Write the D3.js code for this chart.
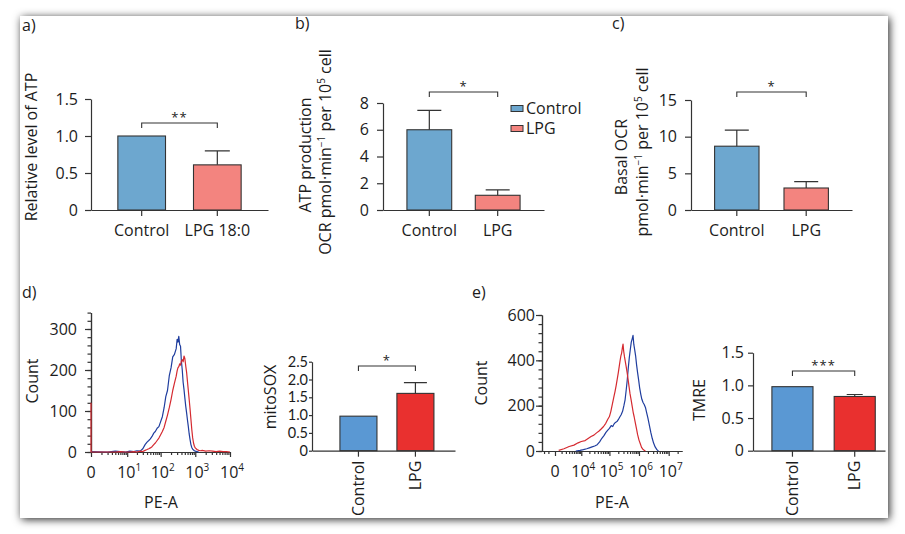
<!DOCTYPE html>
<html><head><meta charset="utf-8">
<script src="https://cdn.jsdelivr.net/npm/d3@7"></script>
<style>
html,body{margin:0;padding:0;background:#fff;}
svg{display:block;}
text{font-family:"Open Sans","Noto Sans",sans-serif;fill:#1c1c1c;}
</style></head><body>
<svg id="chart" width="905" height="534"></svg>
<script>
// ---------------- DATA ----------------
const groupsA = ["Control", "LPG 18:0"];
const atpLevel = [1.0, 0.61];
const atpLevelErr = [0, 0.19];
const groupsBC = ["Control", "LPG"];
const atpProduction = [6.0, 1.1];
const atpProductionErr = [1.45, 0.4];
const basalOCR = [8.7, 3.0];
const basalOCRErr = [2.2, 0.88];
const mitoSOX = [0.97, 1.61];
const mitoSOXErr = [0, 0.30];
const tmre = [0.98, 0.83];
const tmreErr = [0, 0.03];

const ticksA = [0, 0.5, 1.0, 1.5];
const ticksB = [0, 2, 4, 6, 8];
const ticksC = [0, 5, 10, 15];
const ticksMito = [0, 0.5, 1.0, 1.5, 2.0, 2.5];
const ticksTMRE = [0, 0.5, 1.0, 1.5];

const sigA = "**", sigB = "*", sigC = "*", sigMito = "*", sigTMRE = "***";

// Histogram d (mitoSOX, PE-A)
const histDYTicks = [0, 100, 200, 300];
const histDXTicks = [0, 10, 100, 1000, 10000];
const histDXExp = ["", "1", "2", "3", "4"];
const ctrlBinsD = [0, 2, 4, 6, 9, 12, 16, 20, 25, 30, 35, 40, 45, 50, 56, 63, 70, 79, 89, 100, 112, 126, 141, 158, 178, 200, 224, 251, 282, 300, 316, 335, 355, 376, 398, 422, 447, 474, 501, 531, 562, 596, 631, 668, 708, 750, 794, 841, 891, 944, 1000, 1122, 1259];
const ctrlCountsD = [1, 0, 2, 1, 0, 2, 1, 3, 2, 8, 18, 24, 28, 32, 38, 46, 50, 58, 62, 74, 86, 108, 135, 150, 186, 205, 232, 238, 252, 275, 268, 282, 262, 258, 222, 200, 170, 152, 132, 112, 96, 78, 62, 44, 30, 18, 11, 7, 5, 3, 2, 1, 0];
const lpgBinsD = [0, 0, 2, 4, 6, 9, 12, 16, 20, 25, 30, 35, 40, 45, 50, 56, 63, 70, 79, 89, 100, 112, 126, 141, 158, 178, 200, 224, 251, 282, 300, 316, 335, 355, 376, 398, 422, 447, 474, 501, 531, 562, 596, 631, 668, 708, 750, 794, 841, 891, 944, 1000, 1122, 1259, 1413, 1585, 2000, 2512, 3162, 3981, 5012, 6310, 7943, 10000];
const lpgCountsD = [120, 0, 0, 0, 1, 0, 0, 1, 0, 2, 1, 4, 6, 8, 10, 13, 18, 22, 28, 34, 42, 50, 60, 75, 90, 108, 128, 150, 168, 185, 198, 205, 208, 215, 212, 222, 225, 220, 234, 228, 210, 195, 172, 150, 128, 105, 80, 55, 35, 22, 14, 10, 6, 4, 3, 4, 2, 3, 2, 1, 2, 1, 1, 0];

// Histogram e (TMRE, PE-A)
const histEYTicks = [0, 200, 400, 600];
const histEXTicks = [0, 1e4, 1e5, 1e6, 1e7];
const histEXExp = ["", "4", "5", "6", "7"];
const ctrlBinsE = [6000, 9000, 12000, 16000, 20000, 25000, 31000, 38000, 46000, 55000, 65000, 76000, 88000, 100000, 115000, 130000, 145000, 160000, 180000, 200000, 225000, 250000, 280000, 310000, 340000, 370000, 400000, 435000, 470000, 510000, 550000, 590000, 630000, 670000, 720000, 770000, 830000, 900000, 970000, 1050000, 1150000, 1250000, 1370000, 1500000, 1650000, 1800000, 2000000, 2250000, 2500000, 2800000, 3100000, 3500000, 4000000, 4500000];
const ctrlCountsE = [0, 3, 6, 10, 14, 18, 22, 28, 40, 56, 68, 82, 92, 100, 112, 108, 120, 126, 130, 138, 150, 160, 175, 200, 226, 268, 310, 365, 410, 448, 480, 495, 510, 470, 445, 420, 380, 345, 315, 280, 250, 228, 214, 205, 192, 170, 145, 112, 82, 55, 35, 18, 6, 0];
const lpgBinsE = [500, 1500, 3000, 5000, 7500, 10000, 14000, 18000, 23000, 29000, 36000, 44000, 53000, 63000, 75000, 88000, 100000, 112000, 125000, 140000, 155000, 170000, 185000, 200000, 215000, 230000, 245000, 260000, 275000, 290000, 305000, 325000, 345000, 370000, 400000, 430000, 465000, 500000, 540000, 585000, 635000, 690000, 750000, 820000, 900000, 1000000, 1100000, 1220000, 1350000, 1500000, 1650000];
const lpgCountsE = [3, 10, 20, 26, 36, 42, 46, 55, 64, 70, 80, 88, 98, 108, 122, 140, 152, 175, 205, 235, 262, 290, 318, 345, 372, 398, 420, 432, 455, 472, 440, 415, 395, 372, 345, 315, 282, 252, 228, 200, 172, 150, 125, 100, 72, 48, 33, 16, 8, 3, 0];

// ---------------- STYLE ----------------
const C = {
  ctrlLight: "#6da7cf", lpgLight: "#f3847f",
  ctrlBar: "#5a98d3", lpgBar: "#e9302f",
  histBlue: "#1f3d9e", histRed: "#d52a30",
  ink: "#333"
};
const FS = 16;

const svg = d3.select("#chart");
const defs = svg.append("defs");
defs.append("filter").attr("id", "shadow")
  .attr("x", "-5%").attr("y", "-5%").attr("width", "110%").attr("height", "110%")
  .append("feDropShadow").attr("dx", 1.5).attr("dy", 1.5).attr("stdDeviation", 4)
  .attr("flood-color", "#000").attr("flood-opacity", 0.85);
svg.append("rect").attr("x", 20).attr("y", 16).attr("width", 868).attr("height", 502)
  .attr("fill", "#fff").attr("filter", "url(#shadow)");

function styleAxis(g, fs, ff) {
  g.attr("font-size", null).attr("font-family", null);
  g.selectAll("path.domain").attr("stroke", C.ink).attr("stroke-width", 1.2);
  g.selectAll(".tick line").attr("stroke", C.ink).attr("stroke-width", 1.2);
  const t = g.selectAll(".tick text").attr("fill", "#1c1c1c").style("font-size", (fs || FS) + "px");
  if (ff) t.style("font-family", ff);
}

// rotated text, parts: [text, isSup]
function rotText(x, y, parts, anchor, size) {
  const t = svg.append("text").attr("transform", `translate(${x},${y}) rotate(-90)`)
    .attr("text-anchor", anchor || "middle").style("font-size", (size || FS) + "px");
  let raised = false;
  parts.forEach(p => {
    const ts = t.append("tspan").text(p[0]);
    if (p[1]) { ts.attr("dy", -6).style("font-size", "10px"); raised = true; }
    else if (raised) { ts.attr("dy", 6); raised = false; }
  });
  return t;
}

function panelLabel(x, y, s) {
  svg.append("text").attr("x", x).attr("y", y).style("font-size", FS + "px").text(s);
}

function barPanel(p) {
  const x = d3.scaleBand().domain(p.groups).range(p.xRange)
    .paddingInner(p.pi).paddingOuter(p.po).align(p.align);
  const y = d3.scaleLinear().domain(p.yDomain).range(p.yRange);
  const g = svg.append("g");
  g.selectAll("rect").data(p.groups).join("rect")
    .attr("x", d => x(d)).attr("width", x.bandwidth())
    .attr("y", (d, i) => y(p.means[i])).attr("height", (d, i) => y(0) - y(p.means[i]))
    .attr("fill", (d, i) => p.colors[i]).attr("stroke", C.ink).attr("stroke-width", 1.1);
  p.groups.forEach((d, i) => {
    if (!p.errs[i]) return;
    const cx = x(d) + x.bandwidth() / 2, y0 = y(p.means[i]), y1 = y(p.means[i] + p.errs[i]);
    g.append("path").attr("d", `M${cx},${y0}V${y1}M${cx - p.cap / 2},${y1}H${cx + p.cap / 2}`)
      .attr("stroke", C.ink).attr("stroke-width", 1.2).attr("fill", "none");
  });
  const ya = g.append("g").attr("transform", `translate(${p.xRange[0]},0)`)
    .call(d3.axisLeft(y).tickValues(p.yTicks).tickFormat(p.fmt)
      .tickSize(p.yTickSize).tickPadding(p.yTickPad).tickSizeOuter(0));
  styleAxis(ya, p.yFs, p.yFf);
  const xa = g.append("g").attr("transform", `translate(0,${y(0)})`)
    .call(d3.axisBottom(x).tickSize(6).tickPadding(9).tickSizeOuter(0));
  styleAxis(xa);
  if (p.rotate) {
    xa.selectAll(".tick text").remove();
    p.groups.forEach(d => {
      const cx = x(d) + x.bandwidth() / 2;
      rotText(cx + 5.5, y(0) + 10, [[d]], "end");
    });
  }
  // significance bracket
  const c0 = x(p.groups[0]) + x.bandwidth() / 2, c1 = x(p.groups[1]) + x.bandwidth() / 2;
  g.append("path").attr("d", `M${c0},${p.by + 5}V${p.by}H${c1}V${p.by + 5}`)
    .attr("stroke", C.ink).attr("stroke-width", 1.1).attr("fill", "none");
  g.append("text").attr("x", (c0 + c1) / 2).attr("y", p.by - 1).attr("text-anchor", "middle")
    .style("font-size", "13px").style("letter-spacing", "1px").text(p.sig);
  return { x, y };
}

const fmt1 = d => d === 0 ? "0" : d3.format(".1f")(d);
const fmt0 = d => String(d);

// ---------------- PANEL a ----------------
panelLabel(22, 31, "a)");
barPanel({ groups: groupsA, means: atpLevel, errs: atpLevelErr, colors: [C.ctrlLight, C.lpgLight],
  xRange: [91, 268], pi: 0.37, po: 0.355, align: 0.5, yDomain: [0, 1.5], yRange: [210, 99],
  yTicks: ticksA, fmt: fmt1, yTickSize: 6, yTickPad: 7, cap: 25, by: 123, sig: sigA });
rotText(37, 147, [["Relative level of ATP"]]);

// ---------------- PANEL b ----------------
panelLabel(295, 29, "b)");
barPanel({ groups: groupsBC, means: atpProduction, errs: atpProductionErr, colors: [C.ctrlLight, C.lpgLight],
  xRange: [383, 544], pi: 0.345, po: 0.35, align: 0.5, yDomain: [0, 8], yRange: [210, 103],
  yTicks: ticksB, fmt: fmt0, yTickSize: 6, yTickPad: 8, cap: 24, by: 92, sig: sigB });
rotText(311, 155, [["ATP production"]]);
rotText(331, 152, [["OCR pmol\u00B7min"], ["\u22121", true], [" per 10"], ["5", true], [" cell"]]);
// legend
const legB = [["Control", C.ctrlLight, 108.5], ["LPG", C.lpgLight, 128.5]];
legB.forEach(l => {
  svg.append("rect").attr("x", 511).attr("y", l[2] - 3).attr("width", 12).attr("height", 6)
    .attr("fill", l[1]).attr("stroke", C.ink).attr("stroke-width", 1);
  svg.append("text").attr("x", 526).attr("y", l[2] + 5.5).style("font-size", FS + "px").text(l[0]);
});

// ---------------- PANEL c ----------------
panelLabel(612, 29, "c)");
barPanel({ groups: groupsBC, means: basalOCR, errs: basalOCRErr, colors: [C.ctrlLight, C.lpgLight],
  xRange: [691, 852], pi: 0.36, po: 0.34, align: 0.5, yDomain: [0, 15], yRange: [210, 100],
  yTicks: ticksC, fmt: fmt0, yTickSize: 6, yTickPad: 8, cap: 24, by: 92, sig: sigC });
rotText(627, 157, [["Basal OCR"]]);
rotText(648, 152, [["pmol\u00B7min"], ["\u22121", true], [" per 10"], ["5", true], [" cell"]]);

// ---------------- HISTOGRAMS ----------------
function histPanel(p) {
  const x = d3.scaleSymlog().constant(p.c).domain(p.xDomain).range(p.xRange);
  const y = d3.scaleLinear().domain(p.yDomain).range(p.yRange);
  const g = svg.append("g");
  const yMin = g.append("g").attr("transform", `translate(${p.xRange[0]},0)`)
    .call(d3.axisLeft(y).tickValues(p.yMinor).tickFormat("").tickSize(3.5).tickSizeOuter(0));
  styleAxis(yMin);
  const yMaj = g.append("g").attr("transform", `translate(${p.xRange[0]},0)`)
    .call(d3.axisLeft(y).tickValues(p.yTicks).tickSize(6).tickPadding(p.yPad).tickSizeOuter(0));
  styleAxis(yMaj);
  const xMin = g.append("g").attr("transform", `translate(0,${p.yRange[0]})`)
    .call(d3.axisBottom(x).tickValues(p.xMinor).tickFormat("").tickSize(3).tickSizeOuter(0));
  styleAxis(xMin);
  const xMaj = g.append("g").attr("transform", `translate(0,${p.yRange[0]})`)
    .call(d3.axisBottom(x).tickValues(p.xTicks).tickFormat("").tickSize(5).tickSizeOuter(0));
  styleAxis(xMaj);
  p.xTicks.forEach((v, i) => {
    const t = g.append("text").attr("x", x(v) + (p.xExp[i] ? 2 : 0)).attr("y", p.yRange[0] + 26)
      .attr("text-anchor", "middle").style("font-size", FS + "px");
    if (p.xExp[i]) {
      t.append("tspan").text("10");
      t.append("tspan").attr("dy", -7).style("font-size", "10px").text(p.xExp[i]);
    } else t.text("0");
  });
  const line = d3.line().defined(d => d[1] != null).x(d => x(d[0])).y(d => y(d[1]));
  p.series.forEach(s => {
    g.append("path").datum(d3.zip(s.bins, s.counts)).attr("d", line)
      .attr("fill", "none").attr("stroke", s.color).attr("stroke-width", 1.2)
      .attr("stroke-linejoin", "round");
  });
  return { x, y };
}

// minor tick positions (axis decoration only)
const minorDX = [];
[1, 10, 100, 1000].forEach(b => { for (let k = 1; k <= 9; k++) if (!(k === 1 && b > 1)) minorDX.push(k * b); });
const minorEX = [-2000, -1000];
[1000, 10000, 100000, 1000000, 10000000].forEach(b => { for (let k = 1; k <= 9; k++) if (!(k === 1 && b > 1000)) { const v = k * b; if (v <= 2.8e7) minorEX.push(v); } });

// ---------------- PANEL d ----------------
panelLabel(22, 298, "d)");
histPanel({ c: 1, xDomain: [0, 10000], xRange: [91, 230], yDomain: [0, 340], yRange: [452, 312.6],
  yTicks: histDYTicks, yMinor: d3.range(0, 341, 20), yPad: 8,
  xTicks: histDXTicks, xExp: histDXExp, xMinor: minorDX,
  series: [{ bins: ctrlBinsD, counts: ctrlCountsD, color: C.histBlue },
           { bins: lpgBinsD, counts: lpgCountsD, color: C.histRed }] });
rotText(38, 381, [["Count"]]);
svg.append("text").attr("x", 161).attr("y", 508).attr("text-anchor", "middle").style("font-size", FS + "px").text("PE-A");

barPanel({ groups: groupsBC, means: mitoSOX, errs: mitoSOXErr, colors: [C.ctrlBar, C.lpgBar],
  xRange: [312, 455], pi: 0.35, po: 0.43, align: 0.57, yDomain: [0, 2.5], yRange: [450.7, 361.7],
  yTicks: ticksMito, fmt: fmt1, yTickSize: 3, yTickPad: 1, yFs: 14.5, yFf: "Lato", cap: 23, by: 366, sig: sigMito, rotate: true });
rotText(276, 397, [["mitoSOX"]]);

// ---------------- PANEL e ----------------
panelLabel(472, 298, "e)");
histPanel({ c: 1500, xDomain: [-2600, 2.8e7], xRange: [542, 682], yDomain: [0, 600], yRange: [451, 315],
  yTicks: histEYTicks, yMinor: d3.range(0, 601, 40), yPad: 1,
  xTicks: histEXTicks, xExp: histEXExp, xMinor: minorEX,
  series: [{ bins: ctrlBinsE, counts: ctrlCountsE, color: C.histBlue },
           { bins: lpgBinsE, counts: lpgCountsE, color: C.histRed }] });
rotText(487, 383, [["Count"]]);
svg.append("text").attr("x", 612).attr("y", 508).attr("text-anchor", "middle").style("font-size", FS + "px").text("PE-A");

barPanel({ groups: groupsBC, means: tmre, errs: tmreErr, colors: [C.ctrlBar, C.lpgBar],
  xRange: [753, 885], pi: 0.34, po: 0.23, align: 0.66, yDomain: [0, 1.5], yRange: [450.7, 352.7],
  yTicks: ticksTMRE, fmt: fmt1, yTickSize: 5, yTickPad: 4, cap: 16, by: 371, sig: sigTMRE, rotate: true });
rotText(705, 400, [["TMRE"]]);
</script>
</body></html>
